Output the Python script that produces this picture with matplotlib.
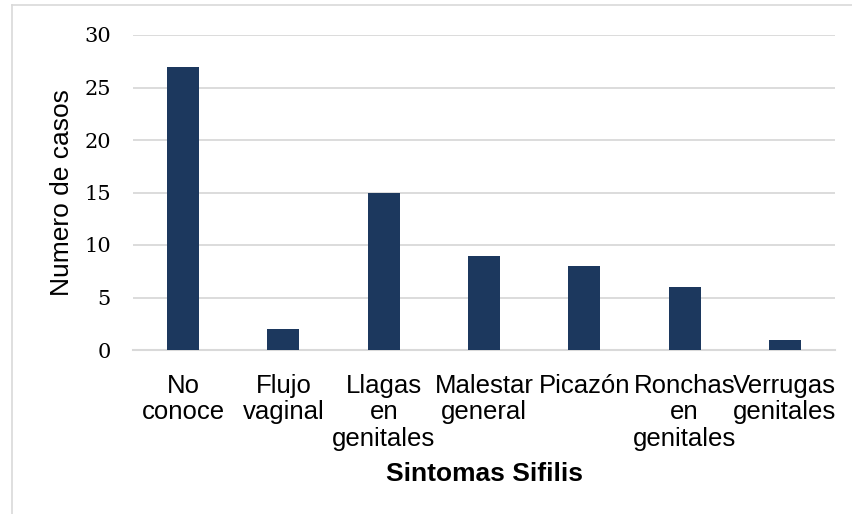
import matplotlib
matplotlib.use("Agg")
import matplotlib.pyplot as plt
from matplotlib.lines import Line2D

categories = ["No\nconoce", "Flujo\nvaginal", "Llagas\nen\ngenitales", "Malestar\ngeneral",
              "Picazón", "Ronchas\nen\ngenitales", "Verrugas\ngenitales"]
values = [27, 2, 15, 9, 8, 6, 1]
yticks = [0, 5, 10, 15, 20, 25, 30]

W, H = 853, 514
fig = plt.figure(figsize=(W/100, H/100), dpi=100)
ax = fig.add_axes([133/W, 1-350/H, (835-133)/W, (350-35)/H])

x = list(range(len(categories)))
ax.bar(x, values, width=0.32, color="#1c385e", zorder=3)
ax.set_xlim(-0.5, len(categories)-0.5)
ax.set_ylim(0, 30)
ax.set_yticks(yticks)
ax.set_yticklabels([str(v) for v in yticks], family="DejaVu Serif", fontsize=15)
ax.set_xticks(x)
ax.set_xticklabels(categories, family="Liberation Sans", fontsize=18.5, linespacing=1.13)
ax.tick_params(axis="both", length=0)
ax.tick_params(axis="x", pad=17)
ax.tick_params(axis="y", pad=16)
ax.grid(axis="y", color="#d9d9d9", linewidth=1.3, zorder=0)
for s in ["top", "right", "left"]:
    ax.spines[s].set_visible(False)
ax.spines["bottom"].set_color("#d9d9d9")
ax.spines["bottom"].set_linewidth(1.5)

fig.text(484/W, 1-474/H, "Sintomas Sifilis", ha="center", va="center",
         family="Liberation Sans", fontsize=19, fontweight="bold")
fig.text(62/W, 1-193/H, "Numero de casos", ha="center", va="center", rotation=90,
         family="Liberation Sans", fontsize=19)

# outer border
fig.add_artist(Line2D([12/W, 12/W], [0, 1-5/H], color="#d9d9d9", linewidth=1.2, transform=fig.transFigure))
fig.add_artist(Line2D([12/W, 1], [1-5/H, 1-5/H], color="#d9d9d9", linewidth=1.2, transform=fig.transFigure))

fig.savefig("out.png", dpi=100)
